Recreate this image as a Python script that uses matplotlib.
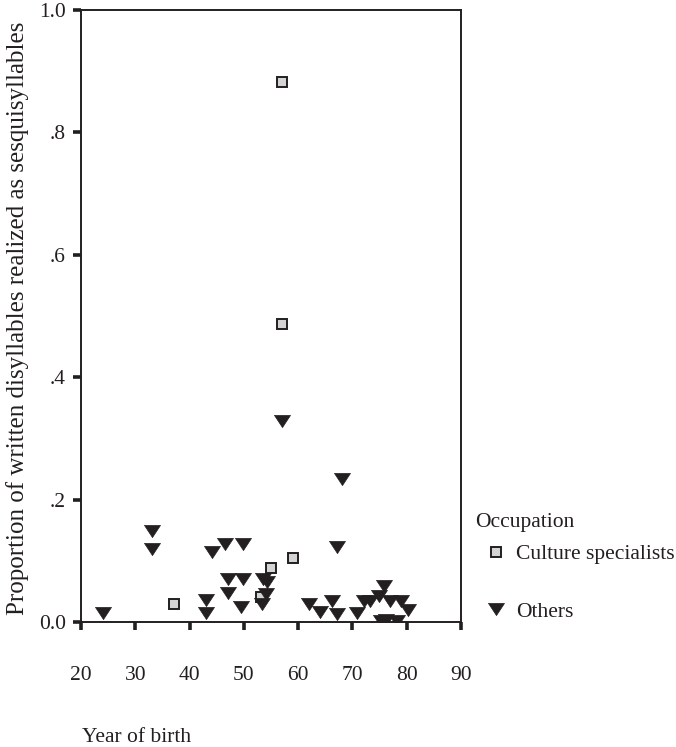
import matplotlib
matplotlib.use("Agg")
import matplotlib.pyplot as plt
import numpy as np

plt.rcParams['font.family'] = ['Liberation Serif', 'DejaVu Serif']
plt.rcParams['font.size'] = 15.5

INK = '#231f20'
FS = 15.5

# culture specialists (year of birth, proportion)
spec_year = [37.1, 57.1, 57.1, 59.1, 55.0, 53.1]
spec_prop = [0.029, 0.883, 0.487, 0.105, 0.088, 0.041]

# all other speakers
other_year = [24.1, 33.0, 33.0, 43.0, 43.0, 44.2, 46.5, 49.9, 47.1, 49.9,
              47.1, 49.5, 53.6, 54.2, 54.1, 53.4, 57.1, 68.1, 67.1, 62.0,
              64.1, 66.2, 67.1, 70.9, 72.1, 73.2, 74.9, 75.9, 77.0, 79.0,
              80.2, 75.2, 76.1, 78.2]
other_prop = [0.014, 0.149, 0.119, 0.036, 0.015, 0.114, 0.127, 0.127, 0.070, 0.070,
              0.048, 0.025, 0.070, 0.065, 0.045, 0.029, 0.329, 0.234, 0.123, 0.029,
              0.016, 0.035, 0.013, 0.014, 0.035, 0.035, 0.042, 0.059, 0.035, 0.035,
              0.020, 0.002, 0.004, 0.002]

xticks = [20, 30, 40, 50, 60, 70, 80, 90]
yticks = [0.0, 0.2, 0.4, 0.6, 0.8, 1.0]
ytick_labels = ['0.0', '.2', '.4', '.6', '.8', '1.0']

# flattened downward triangle (wider than tall)
tri = np.array([[-1.0, 0.76], [1.0, 0.76], [0.0, -0.76], [-1.0, 0.76]])

fig = plt.figure(figsize=(6.76, 7.47), dpi=100)
ax = fig.add_axes([81 / 676, 1 - 622 / 747, 380 / 676, 612 / 747])

ax.plot(spec_year, spec_prop, ls='none', marker='s', ms=6.5,
        mfc='#d4d4d4', mec=INK, mew=1.4, label='Culture specialists', zorder=3)
ax.plot(other_year, other_prop, ls='none', marker=tri, ms=11.5,
        mfc=INK, mec=INK, mew=0.5, label='Others', zorder=4)

ax.set_xlim(20, 90)
ax.set_ylim(0, 1.0)
ax.set_xticks(xticks)
ax.set_yticks(yticks)
ax.set_yticklabels(ytick_labels)

for sp in ax.spines.values():
    sp.set_linewidth(1.4)
    sp.set_color(INK)
ax.tick_params(direction='out', length=6, width=2.6, color=INK,
               labelcolor=INK, labelsize=FS)
ax.tick_params(axis='x', pad=26)
ax.tick_params(axis='y', pad=5)

fig.text(18 / 676, 1 - 318 / 747,
         'Proportion of written disyllables realized as sesquisyllables',
         rotation=90, ha='center', va='center', fontsize=18, color=INK)
fig.text(82 / 676, 1 - 737 / 747, 'Year of birth',
         ha='left', va='center', fontsize=FS, color=INK)

fig.text(475 / 676, 1 - 522 / 747, 'Occupation',
         ha='left', va='center', fontsize=FS, color=INK)
leg = fig.legend(loc='upper left', bbox_to_anchor=(486 / 676, 1 - 544 / 747),
                 frameon=False, borderpad=0, borderaxespad=0,
                 handlelength=0.9, handletextpad=0.5, labelspacing=1.75,
                 fontsize=FS)
for t in leg.get_texts():
    t.set_color(INK)

fig.savefig('out.png', dpi=100)
